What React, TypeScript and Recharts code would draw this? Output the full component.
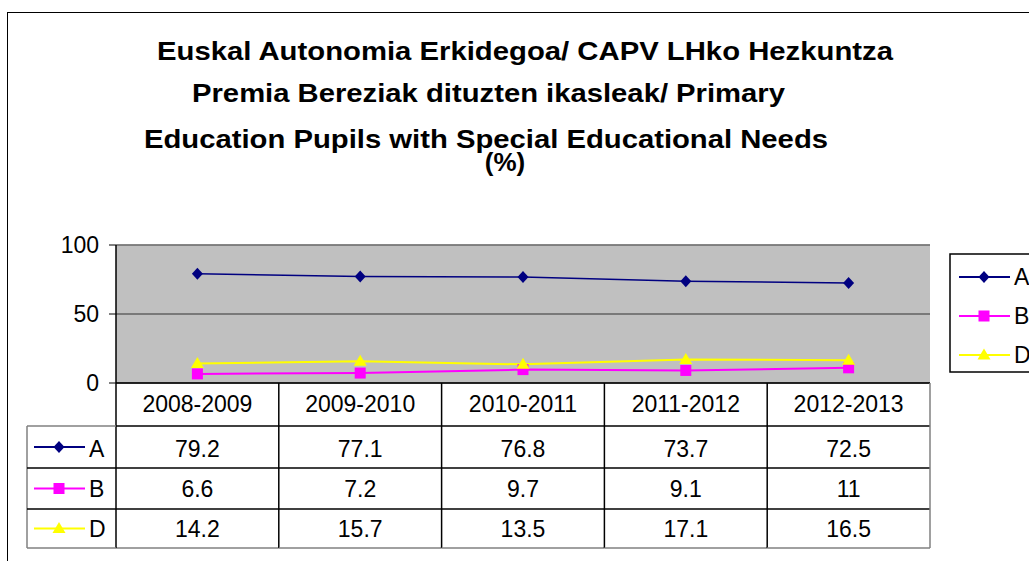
import React from "react"
import { LineChart, Line, XAxis, YAxis, CartesianGrid, ReferenceLine } from "recharts"

const years = ["2008-2009", "2009-2010", "2010-2011", "2011-2012", "2012-2013"]
const seriesA = [79.2, 77.1, 76.8, 73.7, 72.5]
const seriesB = [6.6, 7.2, 9.7, 9.1, 11]
const seriesD = [14.2, 15.7, 13.5, 17.1, 16.5]
const seriesNames = ["A", "B", "D"]
const seriesColors = ["#000080", "#FF00FF", "#FFFF00"]
const seriesMarkers = ["diamond", "square", "triangle"]
const yTicks = [0, 50, 100]
const titleLines = [
    "Euskal Autonomia Erkidegoa/ CAPV LHko Hezkuntza",
    "Premia Bereziak dituzten ikasleak/ Primary",
    "Education Pupils with Special Educational Needs",
    "(%)",
]

const seriesValues = [seriesA, seriesB, seriesD]
const data = years.map((year, i) => ({ year, A: seriesA[i], B: seriesB[i], D: seriesD[i] }))

const FONT = "Arial, 'Liberation Sans', sans-serif"
const W = 1029
const H = 561
const PLOT_LEFT = 116
const PLOT_RIGHT = 930
const PLOT_TOP = 245
const PLOT_BOTTOM = 383
const BAND = (PLOT_RIGHT - PLOT_LEFT) / years.length
// table row boundaries, relative to the x axis
const ROW_LINES = [43, 85, 126, 165]
const ROW_BASE = [29, 74, 114, 154]
const LEGEND_COL = 89

function Marker({ kind, cx, cy, color }: { kind: string; cx: number; cy: number; color: string }) {
    if (kind === "diamond") {
        return <polygon points={`${cx},${cy - 6} ${cx + 5.5},${cy} ${cx},${cy + 6} ${cx - 5.5},${cy}`} fill={color} />
    }
    if (kind === "square") {
        return <rect x={cx - 5.5} y={cy - 5.5} width={11} height={11} fill={color} />
    }
    return <polygon points={`${cx},${cy - 6.5} ${cx + 6.5},${cy + 4.5} ${cx - 6.5},${cy + 4.5}`} fill={color} />
}

function makeDot(s: number) {
    return (props: any) => (
        <Marker key={`${s}-${props.index}`} kind={seriesMarkers[s]} cx={props.cx} cy={props.cy} color={seriesColors[s]} />
    )
}

function LegendIcon({ x, y, s }: { x: number; y: number; s: number }) {
    return (
        <g>
            <line x1={x} y1={y} x2={x + 51} y2={y} stroke={seriesColors[s]} strokeWidth={2} />
            <Marker kind={seriesMarkers[s]} cx={x + 25} cy={y} color={seriesColors[s]} />
        </g>
    )
}

// each x tick draws one column of the data table
function ColumnTick(props: any) {
    const { x, y, payload } = props
    const i = payload.index
    const half = BAND / 2
    const last = i === years.length - 1
    const bottom = y + ROW_LINES[ROW_LINES.length - 1]
    return (
        <g fontFamily={FONT} fontSize={23} fill="#000">
            <text x={x} y={y + ROW_BASE[0]} textAnchor="middle" fill="#000">{payload.value}</text>
            {seriesValues.map((vals, s) => (
                <text key={s} x={x} y={y + ROW_BASE[s + 1]} textAnchor="middle" fill="#000">{vals[i]}</text>
            ))}
            {ROW_LINES.map((r, k) => (
                <line key={k} x1={x - half} x2={x + half} y1={y + r} y2={y + r}
                    stroke={k === ROW_LINES.length - 1 ? "#808080" : "#000"} strokeWidth={1.5} />
            ))}
            <line x1={x + half} x2={x + half} y1={y} y2={bottom} stroke={last ? "#808080" : "#000"} strokeWidth={1.5} />
            {i === 0 && (
                <g>
                    <line x1={x - half} x2={x - half} y1={y} y2={bottom} stroke="#000" strokeWidth={1.5} />
                    <line x1={x - half - LEGEND_COL} x2={x - half} y1={y + ROW_LINES[0]} y2={y + ROW_LINES[0]} stroke="#808080" strokeWidth={1.5} />
                    <line x1={x - half - LEGEND_COL} x2={x - half} y1={bottom} y2={bottom} stroke="#808080" strokeWidth={1.5} />
                    <line x1={x - half - LEGEND_COL} x2={x - half - LEGEND_COL} y1={y + ROW_LINES[0]} y2={bottom} stroke="#808080" strokeWidth={1.5} />
                    {seriesNames.map((name, s) => (
                        <g key={name}>
                            {s > 0 && (
                                <line x1={x - half - LEGEND_COL} x2={x - half} y1={y + ROW_LINES[s]} y2={y + ROW_LINES[s]} stroke="#000" strokeWidth={1.5} />
                            )}
                            <LegendIcon x={x - half - 82} y={y + (ROW_LINES[s] + ROW_LINES[s + 1]) / 2} s={s} />
                            <text x={x - half - 27} y={y + ROW_BASE[s + 1]} fill="#000">{name}</text>
                        </g>
                    ))}
                </g>
            )}
        </g>
    )
}

export default function App() {
    return (
        <div style={{ position: "absolute", left: 0, top: 0, width: W, height: H, overflow: "hidden", background: "#fff" }}>
            <div style={{ position: "absolute", left: 7, top: 12, width: 1100, height: 700, border: "1.5px solid #000" }} />
            <svg width={W} height={H} style={{ position: "absolute", left: 0, top: 0 }}>
                <g fontFamily={FONT} fontWeight="bold" fontSize={26} fill="#000">
                    <text x={157} y={60} textLength={736} lengthAdjust="spacingAndGlyphs">{titleLines[0]}</text>
                    <text x={192} y={102} textLength={593} lengthAdjust="spacingAndGlyphs">{titleLines[1]}</text>
                    <text x={144} y={148} textLength={684} lengthAdjust="spacingAndGlyphs">{titleLines[2]}</text>
                    <text x={505} y={171} textAnchor="middle">{titleLines[3]}</text>
                </g>
                <rect x={950} y={254} width={120} height={118} fill="#fff" stroke="#000" strokeWidth={1.5} />
                <g fontFamily={FONT} fontSize={23} fill="#000">
                    {seriesNames.map((name, s) => (
                        <g key={name}>
                            <LegendIcon x={959} y={277 + s * 39} s={s} />
                            <text x={1014} y={285 + s * 39}>{name}</text>
                        </g>
                    ))}
                </g>
            </svg>
            <div style={{ position: "absolute", left: 0, top: 0 }}>
                <LineChart
                    width={W}
                    height={H}
                    data={data}
                    margin={{ top: PLOT_TOP, left: PLOT_LEFT - 60, right: W - PLOT_RIGHT, bottom: 0 }}
                >
                    <CartesianGrid vertical={false} stroke="#333" fill="#C0C0C0" />
                    <XAxis
                        dataKey="year"
                        height={H - PLOT_BOTTOM}
                        padding={{ left: BAND / 2, right: BAND / 2 }}
                        tick={<ColumnTick />}
                        tickLine={false}
                        tickSize={0}
                        tickMargin={0}
                        axisLine={{ stroke: "#000", strokeWidth: 1.5 }}
                        interval={0}
                    />
                    <YAxis
                        width={60}
                        domain={[0, 100]}
                        ticks={yTicks}
                        tickSize={7}
                        tickMargin={10}
                        tickLine={{ stroke: "#000" }}
                        axisLine={{ stroke: "#000", strokeWidth: 1.5 }}
                        tick={{ fill: "#000", fontSize: 23, fontFamily: FONT }}
                    />
                    <YAxis
                        yAxisId="frame"
                        orientation="right"
                        width={0}
                        domain={[0, 100]}
                        tick={false}
                        tickLine={false}
                        axisLine={{ stroke: "#808080", strokeWidth: 1.5 }}
                    />
                    <ReferenceLine y={100} stroke="#808080" strokeWidth={1.5} />
                    {seriesNames.map((name, s) => (
                        <Line
                            key={name}
                            dataKey={name}
                            stroke={seriesColors[s]}
                            strokeWidth={s === 0 ? 1.5 : 2}
                            dot={makeDot(s)}
                            activeDot={false}
                            isAnimationActive={false}
                        />
                    ))}
                </LineChart>
            </div>
        </div>
    )
}
